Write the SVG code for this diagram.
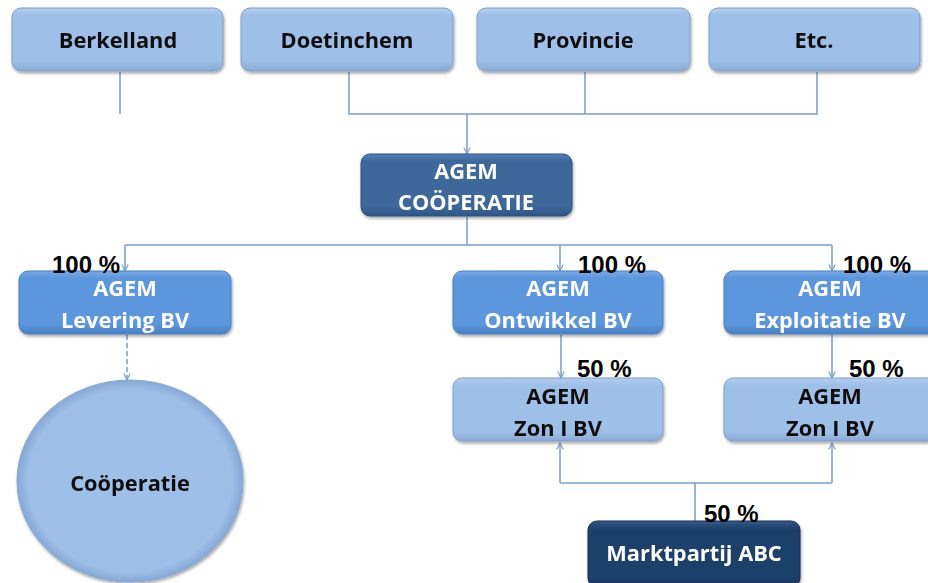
<svg xmlns="http://www.w3.org/2000/svg" width="928" height="583" viewBox="0 0 928 583">
<defs>
<style>
.light{fill:url(#gLight);stroke:#7f9fca;stroke-width:1}
.mid{fill:url(#gMid);stroke:#4a7fbf;stroke-width:1}
.dark{fill:url(#gDark);stroke:#2d527f;stroke-width:1}
.navy{fill:url(#gNavy);stroke:#162f52;stroke-width:1}
.t{font-family:"Open Sans","Liberation Sans",sans-serif;font-weight:bold;font-size:21.8px;text-anchor:middle}
.tb{fill:#111}
.tw{fill:#fff}
.pct{font-family:"Liberation Sans",Arial,sans-serif;font-weight:bold;font-size:24px;fill:#000}
.c{fill:none;stroke:#7b9dca;stroke-width:1.5}
.cd{fill:none;stroke:#7b9dca;stroke-width:1.5;stroke-dasharray:5 3}
</style>
<linearGradient id="gLight" x1="0" y1="0" x2="0" y2="1"><stop offset="0" stop-color="#b4cdee"/><stop offset="0.12" stop-color="#9ebfe8"/><stop offset="0.85" stop-color="#9ebfe8"/><stop offset="1" stop-color="#8aa9d2"/></linearGradient>
<linearGradient id="gMid" x1="0" y1="0" x2="0" y2="1"><stop offset="0" stop-color="#7aaae6"/><stop offset="0.12" stop-color="#5b96dc"/><stop offset="0.85" stop-color="#5b96dc"/><stop offset="1" stop-color="#4a7fbf"/></linearGradient>
<linearGradient id="gDark" x1="0" y1="0" x2="0" y2="1"><stop offset="0" stop-color="#5581b8"/><stop offset="0.12" stop-color="#3c6799"/><stop offset="0.85" stop-color="#3c6799"/><stop offset="1" stop-color="#2f5582"/></linearGradient>
<linearGradient id="gNavy" x1="0" y1="0" x2="0" y2="1"><stop offset="0" stop-color="#34598a"/><stop offset="0.12" stop-color="#1f3f6b"/><stop offset="0.85" stop-color="#1f3f6b"/><stop offset="1" stop-color="#17325a"/></linearGradient>
<radialGradient id="gCirc" cx="0.5" cy="0.5" r="0.5"><stop offset="0.9" stop-color="#9ebfe8"/><stop offset="1" stop-color="#86a8d4"/></radialGradient>
<filter id="sh" x="-10%" y="-10%" width="120%" height="130%"><feDropShadow dx="1" dy="2" stdDeviation="1.5" flood-color="#000" flood-opacity="0.35"/></filter>
<marker id="arr" viewBox="0 0 10 10" refX="9" refY="5" markerWidth="8" markerHeight="8" orient="auto" markerUnits="userSpaceOnUse"><path d="M1,1 L9,5 L1,9" fill="none" stroke="#7b9dca" stroke-width="1.5"/></marker>
</defs>
<rect width="928" height="583" fill="#fff"/>

<g id="connectors">
<path class="c" d="M120,72 V114"/>
<path class="c" d="M349,72 V114 H817 V72"/>
<path class="c" d="M585,72 V114"/>
<path class="c" d="M467,114 V154" marker-end="url(#arr)"/>
<path class="c" d="M467,217 V245"/>
<path class="c" d="M125,245 H832"/>
<path class="c" d="M125,245 V271" marker-end="url(#arr)"/>
<path class="c" d="M560,245 V271" marker-end="url(#arr)"/>
<path class="c" d="M832,245 V271" marker-end="url(#arr)"/>
<path class="c" d="M561,335 V378" marker-end="url(#arr)"/>
<path class="c" d="M832,335 V378" marker-end="url(#arr)"/>
<path class="cd" d="M127,335 V380" marker-end="url(#arr)"/>
<path class="c" d="M695,521 V483"/>
<path class="c" d="M560,483 H832"/>
<path class="c" d="M560,483 V443" marker-end="url(#arr)"/>
<path class="c" d="M832,483 V443" marker-end="url(#arr)"/>
</g>

<g id="berkelland" filter="url(#sh)"><rect class="light" x="12" y="8" width="211" height="63" rx="9"/><text class="t tb" x="118" y="48">Berkelland</text></g>
<g id="doetinchem" filter="url(#sh)"><rect class="light" x="241" y="8" width="212" height="63" rx="9"/><text class="t tb" x="347" y="48">Doetinchem</text></g>
<g id="provincie" filter="url(#sh)"><rect class="light" x="477" y="8" width="213" height="63" rx="9"/><text class="t tb" x="583" y="48">Provincie</text></g>
<g id="etc" filter="url(#sh)"><rect class="light" x="709" y="8" width="211" height="63" rx="9"/><text class="t tb" x="814" y="48">Etc.</text></g>

<g id="agem-cooperatie" filter="url(#sh)"><rect class="dark" x="361" y="154" width="211" height="62" rx="9"/><text class="t tw" x="466" y="179">AGEM</text><text class="t tw" x="466" y="210">COÖPERATIE</text></g>

<g id="levering" filter="url(#sh)"><rect class="mid" x="19" y="271" width="212" height="63" rx="9"/><text class="t tw" x="125" y="296">AGEM</text><text class="t tw" x="125" y="328">Levering BV</text></g>
<g id="ontwikkel" filter="url(#sh)"><rect class="mid" x="453" y="271" width="210" height="63" rx="9"/><text class="t tw" x="558" y="296">AGEM</text><text class="t tw" x="558" y="328">Ontwikkel BV</text></g>
<g id="exploitatie" filter="url(#sh)"><rect class="mid" x="724" y="271" width="212" height="63" rx="9"/><text class="t tw" x="830" y="296">AGEM</text><text class="t tw" x="830" y="328">Exploitatie BV</text></g>

<g id="zon1" filter="url(#sh)"><rect class="light" x="453" y="378" width="210" height="63" rx="9"/><text class="t tb" x="558" y="404">AGEM</text><text class="t tb" x="558" y="436">Zon I BV</text></g>
<g id="zon2" filter="url(#sh)"><rect class="light" x="724" y="378" width="212" height="63" rx="9"/><text class="t tb" x="830" y="404">AGEM</text><text class="t tb" x="830" y="436">Zon I BV</text></g>

<g id="cooperatie" filter="url(#sh)"><ellipse cx="130" cy="481" rx="113" ry="101" fill="url(#gCirc)" stroke="#86a8d4"/><text class="t tb" x="130" y="491">Coöperatie</text></g>

<g id="marktpartij" filter="url(#sh)"><rect class="navy" x="588" y="521" width="212" height="66" rx="9"/><text class="t tw" x="694" y="561">Marktpartij ABC</text></g>

<g id="labels">
<text class="pct" x="52" y="273">100 %</text>
<text class="pct" x="578" y="273">100 %</text>
<text class="pct" x="843" y="273">100 %</text>
<text class="pct" x="577" y="377">50 %</text>
<text class="pct" x="849" y="377">50 %</text>
<text class="pct" x="704" y="522">50 %</text>
</g>
</svg>
